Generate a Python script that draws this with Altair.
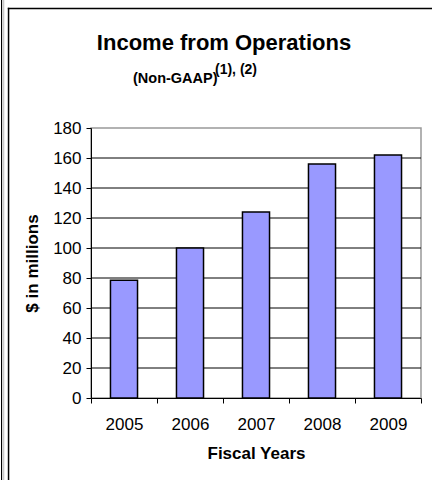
import altair as alt
import pandas as pd

years = ["2005", "2006", "2007", "2008", "2009"]
income = [78.5, 100, 124, 156, 162]
y_ticks = [0, 20, 40, 60, 80, 100, 120, 140, 160, 180]
grid_values = [20, 40, 60, 80, 100, 120, 140, 160]
title_text = ["Income from Operations"]
subtitle_text = ["(Non-GAAP)"]
superscript_text = ["(1), (2)"]

FONT = "Liberation Sans"
W, H = 330, 270
PAD = {"left": 91, "top": 128, "right": 11, "bottom": 82}

df = pd.DataFrame({"year": years, "income": income})
grid_df = pd.DataFrame({"income": grid_values})
one = pd.DataFrame({"a": [0]})

y_scale = alt.Scale(domain=[0, 180], nice=False)
y_axis = alt.Axis(values=y_ticks, title="$ in millions", grid=False,
                  domainColor="#000000", tickColor="#000000", tickSize=5,
                  labelPadding=5, labelFontSize=17, labelFont=FONT,
                  labelColor="#000000", titleFont=FONT, titleFontSize=17,
                  titleFontWeight="bold", titleColor="#000000", titlePadding=11)
x_axis = alt.Axis(title="Fiscal Years", labelAngle=0, tickBand="extent",
                  grid=False, domainColor="#000000", tickColor="#000000",
                  tickSize=5, labelPadding=13, labelFontSize=17, labelFont=FONT,
                  labelColor="#000000", titleFont=FONT, titleFontSize=17,
                  titleFontWeight="bold", titleColor="#000000", titlePadding=13)

grid = alt.Chart(grid_df).mark_rule(color="#000000", strokeWidth=1).encode(
    y=alt.Y("income:Q", scale=y_scale, axis=y_axis),
)

bars = alt.Chart(df).mark_bar(
    width=alt.RelativeBandSize(0.41), fill="#9999FF", stroke="#000000", strokeWidth=1.5
).encode(
    x=alt.X("year:N", sort=years, scale=alt.Scale(paddingInner=0, paddingOuter=0), axis=x_axis),
    y=alt.Y("income:Q", scale=y_scale, axis=y_axis),
)

title = alt.Chart(pd.DataFrame({"t": title_text})).mark_text(
    font=FONT, fontSize=22, fontWeight="bold", align="center", baseline="alphabetic", color="#000"
).encode(text="t:N", x=alt.value(133), y=alt.value(-78))

subtitle = alt.Chart(pd.DataFrame({"t": subtitle_text})).mark_text(
    font=FONT, fontSize=14.5, fontWeight="bold", align="left", baseline="alphabetic", color="#000"
).encode(text="t:N", x=alt.value(42), y=alt.value(-45))

sup = alt.Chart(pd.DataFrame({"t": superscript_text})).mark_text(
    font=FONT, fontSize=14, fontWeight="bold", align="left", baseline="alphabetic", color="#000"
).encode(text="t:N", x=alt.value(124), y=alt.value(-54))


def frame_box(x0, x1, y0, y1, color):
    return alt.Chart(one).mark_rect(fill=color, strokeWidth=0).encode(
        x=alt.value(x0), x2=alt.value(x1), y=alt.value(y0), y2=alt.value(y1))


frame_outer = frame_box(-90, -89, -128, 352, "#000000")
frame_gray = frame_box(-88.7, -86.7, -128, 352, "#c8c8c8")
frame_left = frame_box(-83.2, -81.7, -120.2, 352, "#000000")
frame_top = frame_box(-83.2, 341, -120.2, -118.7, "#000000")

chart = alt.layer(
    frame_outer, frame_gray, frame_left, frame_top, grid, bars, title, subtitle, sup
).properties(
    width=W, height=H, padding=PAD, autosize="none", background="#ffffff"
).configure_view(stroke="#999999", strokeWidth=1.5)

chart.save("out.html", embed_options={"renderer": "svg", "actions": False})
